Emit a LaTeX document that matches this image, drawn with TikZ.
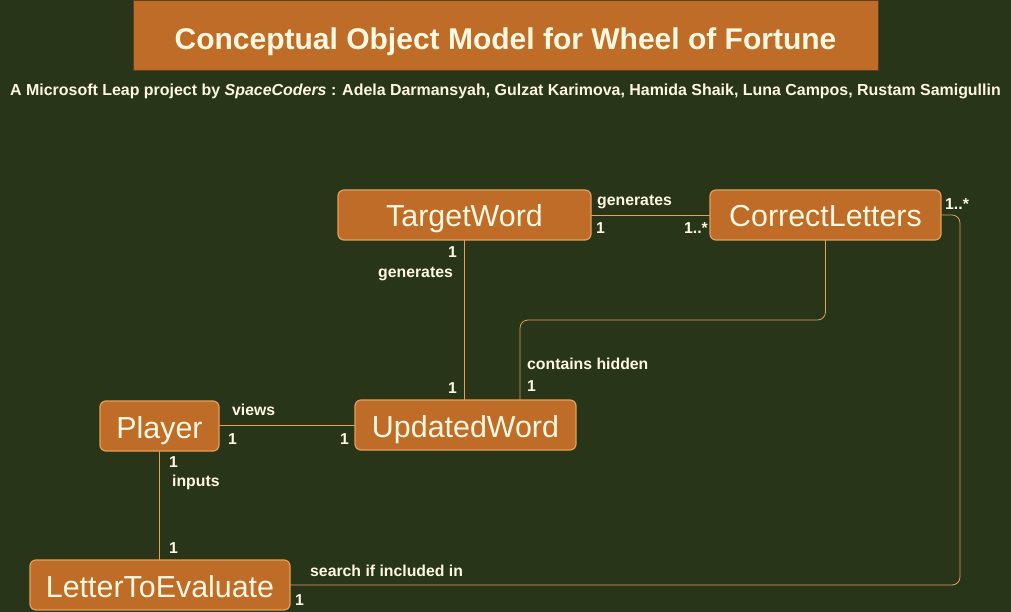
\documentclass[tikz,border=0pt]{standalone}
\usepackage{fontspec}
\setmainfont{Liberation Sans}
\definecolor{bgdark}{RGB}{40,53,24}
\definecolor{boxfill}{RGB}{190,108,40}
\definecolor{boxline}{RGB}{226,160,92}
\definecolor{txtcream}{RGB}{255,248,225}
\begin{document}
\begin{tikzpicture}[x=1pt, y=-1pt, line join=round, line cap=round,
	classbox/.style={draw=boxline, line width=1.2pt, fill=boxfill, rounded corners=6pt,
		minimum height=50pt, inner sep=0pt, text height=24pt, text depth=0pt,
		text=txtcream, font=\fontsize{30.4}{32}\selectfont},
	assoc/.style={draw=boxline, line width=0.8pt, rounded corners=8pt},
	lbl/.style={anchor=base west, inner sep=0pt, text=txtcream, font=\fontsize{15.8}{17}\selectfont\bfseries}]
	% Hintergrund
	\fill[bgdark] (0,0) rectangle (1011,612);
	\useasboundingbox (0,0) rectangle (1011,612);
	% Titel
	\node[draw=boxline!40!black, line width=0.8pt, fill=boxfill, minimum width=745pt, minimum height=70pt, inner sep=0pt] (titlebox) at (505.5,35) {};
	\node[anchor=base, inner sep=0pt, text=txtcream, font=\fontsize{30}{32}\selectfont\bfseries] (title) at (505.5,50) {Conceptual Object Model for Wheel of Fortune};
	\node[anchor=base, inner sep=0pt, text=txtcream, font=\fontsize{15.95}{17}\selectfont\bfseries] (authors) at (505.5,96)
		{A Microsoft Leap project by \textit{SpaceCoders} : Adela Darmansyah, Gulzat Karimova, Hamida Shaik, Luna Campos, Rustam Samigullin};
	% Klassen
	\node[classbox, minimum width=253pt] (tw) at (464.5,215) {TargetWord};
	\node[classbox, minimum width=231pt] (cl) at (825.5,215) {CorrectLetters};
	\node[classbox, minimum width=221pt] (uw) at (465.5,425) {UpdatedWord};
	\node[classbox, minimum width=119pt] (pl) at (159.5,426) {Player};
	\node[classbox, minimum width=260pt] (le) at (160,585) {LetterToEvaluate};
	% Hilfspunkte
	\coordinate (hid) at (520,320);
	\coordinate (srch) at (960,0);
	% Assoziationen
	\draw[assoc] (tw.east) -- (cl.west);
	\draw[assoc] (tw.south) -- (tw.south |- uw.north);
	\draw[assoc] (cl.south) |- (hid) -- (hid |- uw.north);
	\draw[assoc] (pl.east |- uw.west) -- (uw.west);
	\draw[assoc] (pl.south) -- (pl.south |- le.north);
	\draw[assoc] (le.east) -| (srch |- cl.east) -- (cl.east);
	% Beschriftungen
	\node[lbl] (l1) at (597,206) {generates};
	\node[lbl] (m1) at (596,234) {1};
	\node[lbl, anchor=base east] (m2) at (708,234) {1..*};
	\node[lbl] (m3) at (448,258) {1};
	\node[lbl] (l2) at (378,277) {generates};
	\node[lbl] (m4) at (448,393) {1};
	\node[lbl] (l3) at (527,369) {contains hidden};
	\node[lbl] (m5) at (527,391) {1};
	\node[lbl] (l4) at (232,415) {views};
	\node[lbl] (m6) at (228,444) {1};
	\node[lbl] (m7) at (340,444) {1};
	\node[lbl] (m8) at (169,467) {1};
	\node[lbl] (l5) at (172,486) {inputs};
	\node[lbl] (m9) at (169,553) {1};
	\node[lbl] (l6) at (310,576) {search if included in};
	\node[lbl] (m10) at (295,605) {1};
	\node[lbl] (m11) at (945,210) {1..*};
\end{tikzpicture}
\end{document}
